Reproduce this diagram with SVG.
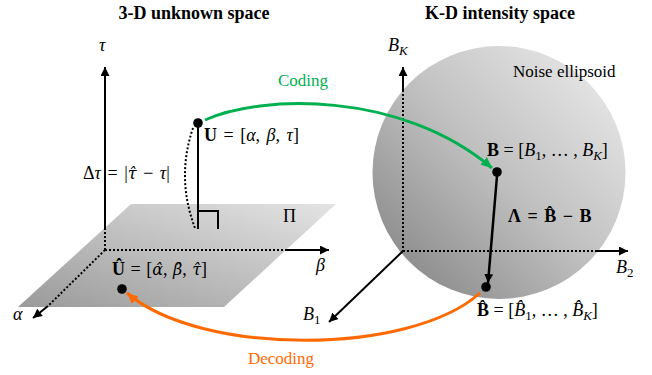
<svg xmlns="http://www.w3.org/2000/svg" width="652" height="375" viewBox="0 0 652 375">
<style>
.title{font-family:"Liberation Serif",serif;font-weight:bold;font-size:18px;fill:#000;text-anchor:middle}
.m{font-family:"Liberation Serif",serif;font-size:18px;fill:#000}
.i{font-style:italic}
.b{font-weight:bold}
.h{font-family:"DejaVu Serif",serif;font-style:italic;font-size:16px}
.sub{font-size:13px}
.lab{font-family:"Liberation Serif",serif;font-size:17px}
.ax{stroke:#000;stroke-width:2;fill:none}
.dot{stroke:#000;stroke-width:2;stroke-dasharray:2 2;fill:none}
</style>
<defs>
<linearGradient id="gPlane" x1="0" y1="1" x2="1" y2="0">
<stop offset="0" stop-color="#9a9a9a"/><stop offset="1" stop-color="#e4e4e4"/>
</linearGradient>
<linearGradient id="gBall" x1="0.1" y1="0.9" x2="0.9" y2="0.1">
<stop offset="0" stop-color="#8a8a8a"/><stop offset="0.5" stop-color="#c0c0c0"/><stop offset="1" stop-color="#e6e6e6"/>
</linearGradient>
<marker id="ak" markerUnits="userSpaceOnUse" markerWidth="10" markerHeight="10" refX="9" refY="4.5" orient="auto"><path d="M0,0 L9,4.5 L0,9 z" fill="#000"/></marker>
<marker id="ag" markerUnits="userSpaceOnUse" markerWidth="12" markerHeight="12" refX="11" refY="5" orient="auto"><path d="M0,0 L11,5 L0,10 z" fill="#00b050"/></marker>
<marker id="ao" markerUnits="userSpaceOnUse" markerWidth="12" markerHeight="12" refX="11" refY="5" orient="auto"><path d="M0,0 L11,5 L0,10 z" fill="#ff6a00"/></marker>
</defs>

<text class="title" x="194" y="19">3-D unknown space</text>
<text class="title" x="500" y="19">K-D intensity space</text>

<g id="plane">
<polygon points="131,204 336,204 224,307 18,307" fill="url(#gPlane)"/>
<text class="m" x="283" y="222">Π</text>
</g>

<g id="ball">
<circle cx="499" cy="172.5" r="126.5" fill="url(#gBall)"/>
<text class="lab" x="513" y="77">Noise ellipsoid</text>
</g>

<g id="axes3d">
<line class="ax" x1="105" y1="228" x2="105" y2="67" marker-end="url(#ak)"/>
<line class="dot" x1="105" y1="228" x2="105" y2="250"/>
<line class="dot" x1="105" y1="250" x2="285" y2="250"/>
<line class="ax" x1="285" y1="250" x2="329" y2="250" marker-end="url(#ak)"/>
<line class="dot" x1="105" y1="250" x2="48" y2="306"/>
<line class="ax" x1="48" y1="306" x2="33" y2="318" marker-end="url(#ak)"/>
<text class="m i" x="99" y="51">τ</text>
<text class="m i" x="316" y="271">β</text>
<text class="m i" x="13" y="320">α</text>
</g>

<g id="axesKD">
<line class="ax" x1="403" y1="90" x2="403" y2="67" marker-end="url(#ak)"/>
<line class="dot" x1="403" y1="90" x2="403" y2="251"/>
<line class="dot" x1="403" y1="251" x2="595" y2="251"/>
<line class="ax" x1="595" y1="251" x2="628" y2="251" marker-end="url(#ak)"/>
<line class="ax" x1="403" y1="251" x2="329" y2="322" stroke-width="1.6" marker-end="url(#ak)"/>
<text class="m i" x="388" y="51">B<tspan class="sub" dy="4">K</tspan></text>
<text class="m i" x="616" y="273">B<tspan class="sub" font-style="normal" dy="4">2</tspan></text>
<text class="m i" x="303" y="320">B<tspan class="sub" font-style="normal" dy="4">1</tspan></text>
</g>

<g id="U">
<line x1="198" y1="123" x2="198" y2="229" stroke="#000" stroke-width="2"/>
<polyline points="198,211 218,211 218,229" fill="none" stroke="#000" stroke-width="2"/>
<path d="M193,128 Q176,178 195,228" class="dot"/>
<circle cx="198" cy="123" r="4.8" fill="#000"/>
<text class="m" x="204" y="141" word-spacing="2"><tspan class="b">U</tspan> = [<tspan class="i">α</tspan>, <tspan class="i">β</tspan>, <tspan class="i">τ</tspan>]</text>
<text class="m" x="83" y="179" word-spacing="2">Δ<tspan class="i">τ</tspan> = |<tspan class="h">τ̂</tspan> − <tspan class="i">τ</tspan>|</text>
</g>

<g id="Uhat">
<circle cx="122" cy="289" r="4.8" fill="#000"/>
<text class="m" x="112" y="275" word-spacing="1"><tspan class="b">Û</tspan> = [<tspan class="h">α̂</tspan>, <tspan class="h">β̂</tspan>, <tspan class="h">τ̂</tspan>]</text>
</g>

<g id="B">
<circle cx="497" cy="172" r="4.8" fill="#000"/>
<text class="m" x="487" y="156"><tspan class="b">B</tspan> = [<tspan class="i">B</tspan><tspan class="sub" dy="4">1</tspan><tspan dy="-4">, … , </tspan><tspan class="i">B</tspan><tspan class="sub i" dy="4">K</tspan><tspan dy="-4">]</tspan></text>
</g>

<g id="Bhat">
<circle cx="486" cy="287" r="4.8" fill="#000"/>
<text class="m" x="477" y="316"><tspan class="b">B̂</tspan> = [<tspan class="i">B̂</tspan><tspan class="sub" dy="4">1</tspan><tspan dy="-4">, … , </tspan><tspan class="i">B̂</tspan><tspan class="sub i" dy="4">K</tspan><tspan dy="-4">]</tspan></text>
</g>

<g id="connectors">
<path d="M205,120 C260,95 400,90 492,168" fill="none" stroke="#00b050" stroke-width="3" marker-end="url(#ag)"/>
<path d="M480,293 C410,356 200,356 127,293" fill="none" stroke="#ff6a00" stroke-width="3" marker-end="url(#ao)"/>
<line x1="497" y1="176" x2="488" y2="283" stroke="#000" stroke-width="2.5" marker-end="url(#ak)"/>
<text class="lab" x="303" y="86" fill="#00b050" text-anchor="middle">Coding</text>
<text class="lab" x="281" y="364" fill="#ff6a00" text-anchor="middle">Decoding</text>
<text class="m b" x="508" y="222" word-spacing="2">Λ = B̂ − B</text>
</g>
</svg>
